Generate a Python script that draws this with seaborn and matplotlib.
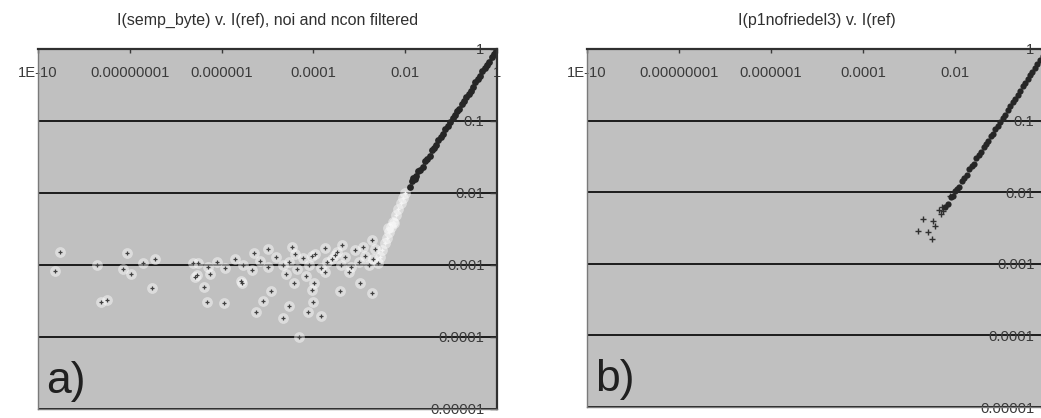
import numpy as np
import pandas as pd
import matplotlib
matplotlib.use('agg')
import matplotlib.pyplot as plt
import seaborn as sns

# ---- panel a) I(semp_byte) v. I(ref) ----
# low-intensity noise cloud round 0.001
a_noise_x = [3.0e-10, 2.3e-10, 1.9e-9, 8.5e-9, 7.1e-9, 1.07e-8, 3.5e-8, 2.3e-9, 3.2e-9, 3.0e-8,
             2.6e-7, 5.6e-7, 4.2e-7, 4.7e-7, 1.15e-6, 2.6e-6, 2.4e-7, 1.95e-8, 1.0e-5, 3.4e-5,
             4.0e-5, 9.1e-5, 4.2e-4, 2.95e-4, 2.2e-3, 1.86e-3, 3.8e-5, 1.17e-5, 8.1e-6, 5.6e-6,
             2.2e-5, 9.1e-5, 1.02e-4, 1.0e-4, 7.8e-5, 1.48e-4, 3.8e-4, 1.05e-3, 1.86e-3, 1.78e-4,
             3.0e-5, 4.9e-5, 2.75e-6, 2.9e-7,
             3e-7, 5e-7, 8e-7, 1.2e-6, 2e-6, 3e-6, 4.5e-6, 7e-6, 1e-5, 1.5e-5,
             2.2e-5, 3e-5, 4.5e-5, 6e-5, 8e-5, 1.1e-4, 1.5e-4, 2e-4, 2.5e-4, 3.2e-4,
             4e-4, 5e-4, 6.5e-4, 8e-4, 1e-3, 1.3e-3, 1.6e-3, 2e-3, 2.5e-3, 5e-6,
             2.5e-5, 7e-5, 1.8e-4, 6e-4, 1.2e-3]
a_noise_y = [1.53e-3, 8.3e-4, 1.0e-3, 1.48e-3, 8.9e-4, 7.6e-4, 1.2e-3, 3.1e-4, 3.3e-4, 4.8e-4,
             6.9e-4, 7.6e-4, 4.9e-4, 3.1e-4, 3.0e-4, 5.9e-4, 1.07e-3, 1.07e-3, 1.66e-3, 1.78e-3,
             1.41e-3, 1.33e-3, 1.9e-3, 1.38e-3, 1.66e-3, 2.24e-3, 5.6e-4, 4.4e-4, 3.2e-4, 2.2e-4,
             1.86e-4, 4.5e-4, 5.6e-4, 3.1e-4, 2.2e-4, 1.95e-4, 4.4e-4, 5.6e-4, 4.1e-4, 8.1e-4,
             2.7e-4, 1.0e-4, 5.6e-4, 7.2e-4,
             1.05e-3, 9.5e-4, 1.1e-3, 9e-4, 1.2e-3, 1.0e-3, 8.5e-4, 1.15e-3, 9.5e-4, 1.3e-3,
             1.0e-3, 1.1e-3, 8.8e-4, 1.25e-3, 1.0e-3, 1.4e-3, 9e-4, 1.1e-3, 1.2e-3, 1.5e-3,
             1.0e-3, 1.3e-3, 9.5e-4, 1.6e-3, 1.1e-3, 1.35e-3, 1.0e-3, 1.2e-3, 1.05e-3, 1.45e-3,
             7.5e-4, 7e-4, 1.7e-3, 8e-4, 1.8e-3]
# transition towards the y = x line
a_rise_x = [2.8e-3, 3.2e-3, 3.6e-3, 4e-3, 4.5e-3, 5e-3, 5.5e-3, 6.2e-3, 7e-3, 8e-3, 9e-3, 1e-2, 4.2e-3, 5.8e-3]
a_rise_y = [1.3e-3, 1.6e-3, 2e-3, 2.4e-3, 2.9e-3, 3.4e-3, 4e-3, 5e-3, 6e-3, 7.2e-3, 8.5e-3, 1e-2, 3.3e-3, 3.8e-3]
# strong reflections
a_line_x = [0.013, 0.014, 0.015, 0.016, 0.017, 0.019, 0.021, 0.024, 0.027, 0.03, 0.034, 0.038, 0.042,
            0.047, 0.053, 0.06, 0.067, 0.075, 0.085, 0.095, 0.11, 0.12, 0.135, 0.15, 0.17, 0.19,
            0.21, 0.24, 0.27, 0.3, 0.34, 0.38, 0.43, 0.48, 0.54, 0.6, 0.68, 0.76, 0.85, 0.95]
a_line_y = [0.012, 0.0145, 0.016, 0.0155, 0.017, 0.02, 0.021, 0.023, 0.028, 0.03, 0.033, 0.04, 0.042,
            0.046, 0.055, 0.06, 0.066, 0.077, 0.084, 0.097, 0.11, 0.12, 0.137, 0.148, 0.172, 0.19,
            0.215, 0.24, 0.265, 0.3, 0.345, 0.38, 0.42, 0.49, 0.54, 0.6, 0.67, 0.77, 0.85, 0.95]

# ---- panel b) I(p1nofriedel3) v. I(ref) ----
b_scatter_x = [1.6e-3, 2.0e-3, 3.4e-3, 2.6e-3, 3.7e-3, 5.1e-3, 5.6e-3, 7.8e-3, 5e-3, 4.5e-3, 3.2e-3]
b_scatter_y = [2.9e-3, 4.2e-3, 4.0e-3, 2.75e-3, 3.4e-3, 6.2e-3, 5.5e-3, 8.9e-3, 5e-3, 5.6e-3, 2.2e-3]
b_line_x = [0.006, 0.007, 0.008, 0.009, 0.01, 0.011, 0.0125, 0.014, 0.016, 0.018, 0.02, 0.023, 0.026,
            0.029, 0.033, 0.037, 0.042, 0.047, 0.053, 0.06, 0.067, 0.075, 0.085, 0.095, 0.11, 0.12,
            0.14, 0.16, 0.18, 0.2, 0.23, 0.26, 0.3, 0.34, 0.38, 0.43, 0.48, 0.55, 0.62, 0.7, 0.8, 0.9]
b_line_y = [0.0062, 0.0068, 0.0085, 0.0088, 0.0105, 0.011, 0.012, 0.0145, 0.016, 0.0175, 0.021, 0.023,
            0.025, 0.03, 0.033, 0.036, 0.043, 0.047, 0.052, 0.061, 0.066, 0.076, 0.084, 0.096, 0.11,
            0.12, 0.14, 0.16, 0.18, 0.2, 0.23, 0.26, 0.3, 0.34, 0.38, 0.43, 0.48, 0.55, 0.62, 0.7, 0.8, 0.9]

x_ticks = [1e-10, 1e-8, 1e-6, 1e-4, 1e-2, 1]
x_tick_labels = ['1E-10', '0.00000001', '0.000001', '0.0001', '0.01', '1']
y_ticks = [1e-5, 1e-4, 1e-3, 1e-2, 1e-1, 1]
y_tick_labels = ['0.00001', '0.0001', '0.001', '0.01', '0.1', '1']
titles = ['I(semp_byte) v. I(ref), noi and ncon filtered', 'I(p1nofriedel3) v. I(ref)']
panel_tags = ['a)', 'b)']

sns.set_style('white')
plt.rcParams['font.family'] = ['Liberation Sans', 'DejaVu Sans']

fig = plt.figure(figsize=(10.41, 4.18), dpi=100)
ax_a = fig.add_axes([38 / 1041, 1 - 409 / 418, 459 / 1041, 360 / 418])
ax_b = fig.add_axes([587 / 1041, 1 - 407 / 418, 460 / 1041, 358 / 418])

dark = '#262626'


def pts(xs, ys):
    return pd.DataFrame({'x': xs, 'y': ys})


def style_axes(ax, title, tag, xlabels):
    ax.set_xscale('log')
    ax.set_yscale('log')
    ax.set_xlim(1e-10, 1)
    ax.set_ylim(1e-5, 1)
    ax.set_facecolor('#c0c0c0')
    ax.set_xticks(x_ticks, xlabels)
    ax.set_yticks(y_ticks, y_tick_labels)
    ax.minorticks_off()
    ax.xaxis.tick_top()
    ax.yaxis.tick_right()
    ax.tick_params(axis='x', direction='in', length=3, width=1, pad=-17,
                   labelsize=10.6, colors='#3a3a3a')
    ax.tick_params(axis='y', direction='in', length=5, width=1, pad=-9,
                   labelsize=10.6, colors='#3a3a3a')
    plt.setp(ax.get_xticklabels(), va='center')
    plt.setp(ax.get_yticklabels(), ha='right')
    ax.yaxis.grid(True, color='black', linewidth=1.2)
    ax.xaxis.grid(False)
    ax.set_axisbelow(True)
    for side in ['top', 'right']:
        ax.spines[side].set_color('#303030')
        ax.spines[side].set_linewidth(1.6)
    for side in ['left', 'bottom']:
        ax.spines[side].set_color('#7a7a7a')
        ax.spines[side].set_linewidth(1.0)
    ax.set_xlabel('')
    ax.set_ylabel('')
    ax.text(0.5, 1 + 29 / 360, title, transform=ax.transAxes, ha='center', va='center',
            fontsize=11.5, color='#303030')
    ax.text(0.018, 0.045, tag, transform=ax.transAxes, ha='left', va='baseline',
            fontsize=32, color='#202020')


# panel a
sns.scatterplot(data=pts(a_noise_x + a_rise_x, a_noise_y + a_rise_y), x='x', y='y', ax=ax_a,
                marker='o', s=60, color='white', alpha=0.45, linewidth=0, legend=False)
sns.scatterplot(data=pts(a_noise_x, a_noise_y), x='x', y='y', ax=ax_a,
                marker='+', s=12, color='#404040', linewidth=0.9, legend=False)
sns.scatterplot(data=pts(a_rise_x, a_rise_y), x='x', y='y', ax=ax_a,
                marker='+', s=10, color='#f4f4f4', linewidth=1.0, legend=False)
sns.scatterplot(data=pts(a_line_x, a_line_y), x='x', y='y', ax=ax_a,
                marker='o', s=24, color=dark, linewidth=0, legend=False)

# panel b
sns.scatterplot(data=pts(b_scatter_x, b_scatter_y), x='x', y='y', ax=ax_b,
                marker='+', s=14, color='#303030', linewidth=1.0, legend=False)
sns.scatterplot(data=pts(b_line_x, b_line_y), x='x', y='y', ax=ax_b,
                marker='o', s=20, color=dark, linewidth=0, legend=False)

style_axes(ax_a, titles[0], panel_tags[0], x_tick_labels)
# the last x label of panel b falls outside the cropped picture
style_axes(ax_b, titles[1], panel_tags[1], x_tick_labels[:-1] + [''])

fig.savefig('out.png', dpi=100, facecolor='white')
